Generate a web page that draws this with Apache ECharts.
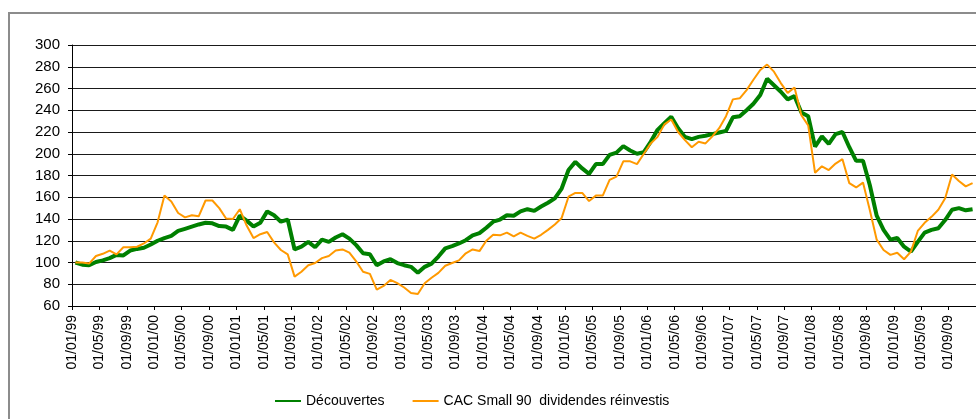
<!DOCTYPE html>
<html>
<head>
<meta charset="utf-8">
<script src="https://cdn.jsdelivr.net/npm/echarts@6/dist/echarts.min.js"></script>
<style>
  html, body { margin: 0; padding: 0; background: #ffffff; }
  #chart { width: 976px; height: 419px; }
</style>
</head>
<body>
<div id="chart"></div>
<script>
// monthly points, first one = janvier 1999 (base 100)
const startYear = 1999
const decouvertes = [
  100, 98, 97.5, 100.5, 102, 104, 107, 106.5, 111, 112.5, 113.5, 116.5,
  120, 122.5, 124.5, 129, 131, 133, 135, 136.5, 136, 133.5, 133, 130,
  143, 138.5, 133, 136.5, 147, 143.5, 137.5, 139.5, 112, 114.5, 119, 114,
  121, 119, 123, 126, 122, 116, 108.5, 107.5, 97.5, 101, 103, 99.5,
  97.5, 96, 90.5, 96, 99, 105.5, 113, 115, 117.5, 120.5, 125, 127,
  132, 137.5, 139.5, 143.5, 143, 147, 149, 147.5, 151.5, 155, 159, 168,
  185, 192.5, 186.5, 181.5, 190.5, 190.5, 199, 201, 207, 203, 200, 201.5,
  211, 222, 228, 234, 223.5, 215.5, 213.5, 215.5, 216.5, 218, 219.5, 221,
  233.5, 234.5, 240, 246, 254, 269, 263, 257, 250, 253, 238, 234.5,
  206.5, 216, 209, 218, 220, 206, 193.5, 193.5, 171, 143, 130, 121,
  122.5, 114.5, 110, 119, 127.5, 130, 131.5, 139, 148.5, 150, 148, 149
]
const cacSmall90 = [
  100, 100, 99, 106, 108, 111, 107.5, 114, 114, 114.5, 117.5, 122,
  137, 161.5, 156, 145.5, 141.5, 143.5, 142.5, 157, 157, 150, 140.5, 140,
  149, 134, 122.5, 126, 128, 118.5, 111.5, 107.5, 87, 91.5, 97.5, 99.5,
  104, 106, 111, 112, 109, 101, 91.5, 89.5, 75, 78.5, 84, 81,
  77, 72, 71, 81, 86, 90.5, 97, 99.5, 102, 108.5, 112, 110.5,
  120, 125.5, 125, 127.5, 124, 127.5, 124.5, 122, 125.5, 130, 135, 141,
  160.5, 164, 164, 156.5, 161.5, 161.5, 176, 179, 193, 193, 190.5, 200,
  209.5, 215.5, 227, 231.5, 220, 212.5, 206, 211, 209.5, 216, 223.5, 234.5,
  250, 251, 258.5, 268, 277, 282, 275.5, 265, 256, 261, 235.5, 226,
  182.5, 188.5, 185, 191, 195, 173, 169, 173.5, 148, 121, 111.5, 107,
  109, 103, 110, 129, 136.5, 142, 148.5, 159, 181, 175, 170, 173
]
const seriesNames = ['Découvertes', 'CAC Small 90  dividendes réinvestis']

// x = mois depuis le 01/01/99 (point au milieu du mois)
function toPoints(arr) {
  return arr.map((v, i) => [i + 0.5, v])
}
function pad(n) {
  return (n < 10 ? '0' : '') + n
}
function monthLabel(v) {
  const m = Math.round(v)
  const year = startYear + Math.floor(m / 12)
  return '01/' + pad((m % 12) + 1) + '/' + pad(year % 100)
}

const font = "'Liberation Sans', Arial, sans-serif"
const chart = echarts.init(document.getElementById('chart'))
chart.setOption({
  animation: false,
  backgroundColor: '#ffffff',
  textStyle: { fontFamily: font },
  graphic: [
    {
      type: 'rect',
      shape: { x: 9, y: 13, width: 1200, height: 800 },
      style: { fill: 'none', stroke: '#8c8c8c', lineWidth: 2 },
      silent: true
    }
  ],
  legend: {
    data: seriesNames,
    left: 270,
    top: 389,
    itemWidth: 26,
    itemHeight: 14,
    itemGap: 28,
    icon: 'path://M0,6 L26,6 L26,8 L0,8 Z',
    textStyle: { fontFamily: font, fontSize: 14, color: '#000' }
  },
  grid: {
    left: 72,
    right: 0,
    top: 45,
    bottom: 113,
    containLabel: false
  },
  xAxis: {
    type: 'value',
    min: 0,
    max: 132,
    interval: 4,
    splitLine: { show: false },
    axisLine: { lineStyle: { color: '#000', width: 1 } },
    axisTick: { show: true, length: 4, lineStyle: { color: '#000' } },
    axisLabel: {
      rotate: 90,
      margin: 9,
      fontSize: 14,
      color: '#000',
      fontFamily: font,
      showMaxLabel: false,
      formatter: monthLabel
    }
  },
  yAxis: {
    type: 'value',
    min: 60,
    max: 300,
    interval: 20,
    axisLine: { show: true, lineStyle: { color: '#000', width: 1 } },
    axisTick: { show: true, length: 4, lineStyle: { color: '#000' } },
    splitLine: { lineStyle: { color: '#1a1a1a', width: 1 } },
    axisLabel: { fontSize: 15, color: '#000', fontFamily: font, margin: 12 }
  },
  series: [
    {
      name: seriesNames[0],
      type: 'line',
      symbol: 'none',
      data: toPoints(decouvertes),
      color: '#008000',
      lineStyle: { width: 4, color: '#008000' }
    },
    {
      name: seriesNames[1],
      type: 'line',
      symbol: 'none',
      data: toPoints(cacSmall90),
      color: '#ff9900',
      lineStyle: { width: 2, color: '#ff9900' }
    }
  ]
})
</script>
</body>
</html>
